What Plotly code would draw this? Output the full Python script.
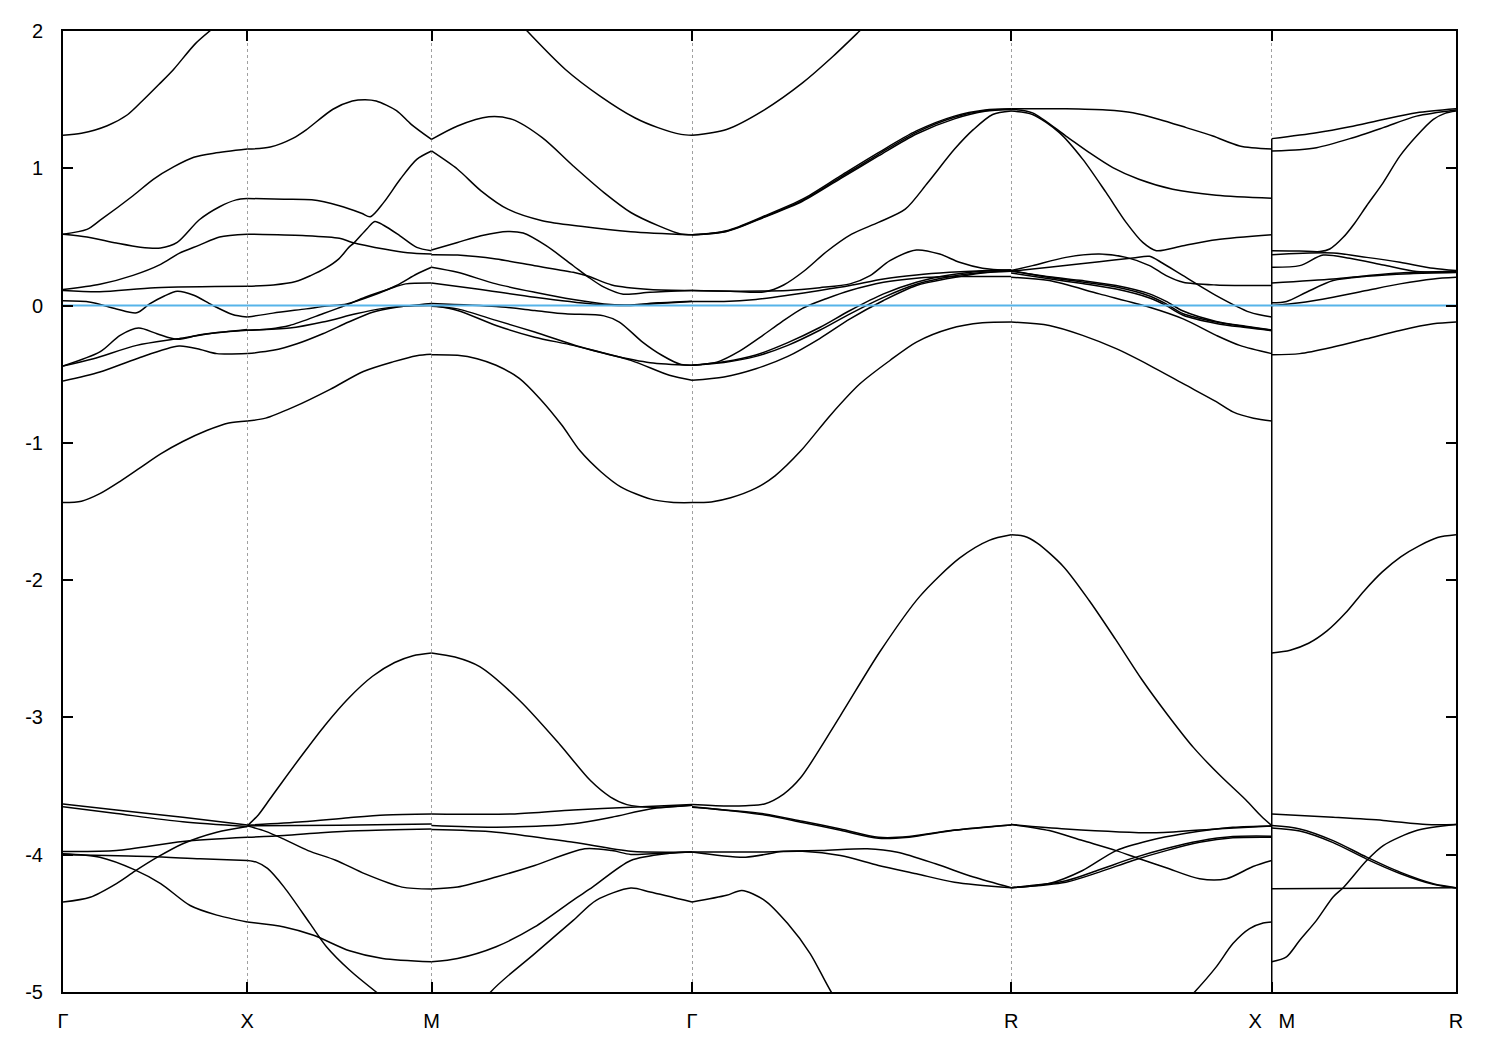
import plotly.graph_objects as go

# ---------------- axis / path data ----------------
k_ticks = [0.0, 0.5, 1.0, 1.7071, 2.5731, 3.2802, 3.7802]
k_labels = ["Γ", "X", "M", "Γ", "R", "X   M", "R"]
y_range = [-5, 2]
y_ticks = [-5, -4, -3, -2, -1, 0, 1, 2]
fermi_level = 0.0

# each curve: list of (fraction along segment, energy in eV)
bands_GX = [
    [(0, 1.24), (0.1, 1.255), (0.24, 1.31), (0.35, 1.39), (0.43, 1.49), (0.52, 1.61), (0.60, 1.72), (0.72, 1.91), (0.84, 2.05), (1, 2.25)],
    [(0, 0.52), (0.13, 0.555), (0.20, 0.62), (0.38, 0.80), (0.49, 0.92), (0.60, 1.01), (0.71, 1.08), (0.82, 1.11), (1, 1.14)],
    [(0, 0.52), (0.13, 0.50), (0.29, 0.455), (0.42, 0.425), (0.53, 0.42), (0.62, 0.46), (0.74, 0.625), (0.85, 0.72), (0.94, 0.77), (1, 0.78)],
    [(0, 0.117), (0.20, 0.155), (0.38, 0.22), (0.53, 0.30), (0.63, 0.38), (0.74, 0.44), (0.85, 0.50), (1, 0.52)],
    [(0, 0.11), (0.2, 0.10), (0.5, 0.13), (1, 0.14)],
    [(0, 0.035), (0.15, 0.025), (0.29, -0.025), (0.40, -0.053), (0.47, 0.012), (0.55, 0.07), (0.62, 0.105), (0.71, 0.075), (0.81, 0.003), (0.92, -0.065), (1, -0.084)],
    [(0, -0.44), (0.2, -0.338), (0.31, -0.217), (0.41, -0.164), (0.51, -0.205), (0.62, -0.246), (0.745, -0.213), (1, -0.175)],
    [(0, -0.44), (0.165, -0.387), (0.40, -0.29), (0.62, -0.242), (0.835, -0.198), (1, -0.18)],
    [(0, -0.55), (0.2, -0.484), (0.40, -0.387), (0.63, -0.295), (0.745, -0.32), (0.835, -0.35), (1, -0.35)],
    [(0, -1.435), (0.1, -1.425), (0.2, -1.37), (0.31, -1.28), (0.42, -1.18), (0.53, -1.08), (0.65, -0.99), (0.78, -0.91), (0.9, -0.855), (1, -0.84)],
    [(0, -3.63), (0.29, -3.674), (0.65, -3.728), (1, -3.783)],
    [(0, -3.65), (0.29, -3.70), (0.65, -3.76), (1, -3.795)],
    [(0, -3.977), (0.29, -3.97), (0.65, -3.904), (1, -3.873)],
    [(0, -3.993), (0.2, -4.018), (0.39, -4.11), (0.53, -4.21), (0.69, -4.37), (0.835, -4.44), (1, -4.49)],
    [(0, -4.0), (0.47, -4.013), (0.745, -4.03), (1, -4.042)],
    [(0, -4.345), (0.147, -4.31), (0.29, -4.21), (0.39, -4.12), (0.51, -4.02), (0.65, -3.92), (0.835, -3.836), (1, -3.795)],
]

bands_XM = [
    [(0, 1.14), (0.125, 1.155), (0.25, 1.22), (0.32, 1.28), (0.465, 1.43), (0.57, 1.49), (0.64, 1.50), (0.70, 1.49), (0.81, 1.42), (0.89, 1.32), (1, 1.21)],
    [(0, 0.78), (0.2, 0.775), (0.35, 0.77), (0.5, 0.727), (0.62, 0.673), (0.668, 0.647), (0.74, 0.75), (0.83, 0.92), (0.92, 1.065), (1, 1.126)],
    [(0, 0.52), (0.3, 0.51), (0.5, 0.49), (0.57, 0.46), (0.75, 0.41), (0.87, 0.385), (1, 0.375)],
    [(0, 0.14), (0.142, 0.15), (0.263, 0.175), (0.344, 0.218), (0.425, 0.272), (0.497, 0.34), (0.551, 0.424), (0.578, 0.455), (0.65, 0.56), (0.692, 0.613), (0.74, 0.585), (0.827, 0.51), (0.92, 0.424), (1, 0.40)],
    [(0, -0.084), (0.14, -0.055), (0.32, -0.024), (0.43, -0.004), (0.54, 0.012), (0.68, 0.073), (0.81, 0.146), (0.92, 0.23), (1, 0.279)],
    [(0, -0.18), (0.12, -0.17), (0.23, -0.145), (0.41, -0.06), (0.54, 0.005), (0.64, 0.061), (0.77, 0.121), (0.86, 0.158), (1, 0.165)],
    [(0, -0.18), (0.23, -0.164), (0.41, -0.12), (0.59, -0.06), (0.72, -0.024), (0.86, -0.004), (1, 0.0)],
    [(0, -0.35), (0.14, -0.326), (0.27, -0.278), (0.41, -0.205), (0.55, -0.12), (0.68, -0.048), (0.81, -0.012), (1, 0.015)],
    [(0, -0.84), (0.1, -0.82), (0.25, -0.74), (0.45, -0.61), (0.63, -0.48), (0.79, -0.41), (0.92, -0.365), (1, -0.355)],
    [(0, -3.79), (0.06, -3.71), (0.12, -3.60), (0.19, -3.47), (0.3, -3.27), (0.42, -3.06), (0.55, -2.86), (0.68, -2.70), (0.8, -2.60), (0.9, -2.55), (1, -2.53)],
    [(0, -3.785), (0.3, -3.76), (0.55, -3.73), (0.75, -3.71), (1, -3.703)],
    [(0, -3.79), (0.5, -3.785), (1, -3.776)],
    [(0, -3.873), (0.2, -3.86), (0.4, -3.84), (0.6, -3.825), (1, -3.812)],
    [(0, -3.79), (0.1, -3.83), (0.196, -3.885), (0.33, -3.97), (0.48, -4.04), (0.64, -4.14), (0.84, -4.236), (1, -4.25)],
    [(0, -4.042), (0.05, -4.054), (0.11, -4.10), (0.2, -4.236), (0.34, -4.50), (0.43, -4.67), (0.555, -4.84), (0.70, -5.0), (0.85, -5.15), (1, -5.25)],
    [(0, -4.49), (0.2, -4.526), (0.36, -4.587), (0.555, -4.70), (0.735, -4.756), (1, -4.78)],
]

bands_MG = [
    [(0, 2.6), (0.2, 2.35), (0.367, 2.0), (0.514, 1.72), (0.647, 1.526), (0.78, 1.368), (0.869, 1.296), (0.958, 1.247), (1, 1.24)],
    [(0, 1.21), (0.10, 1.308), (0.22, 1.375), (0.31, 1.356), (0.425, 1.223), (0.544, 1.017), (0.662, 0.823), (0.765, 0.678), (0.87, 0.582), (0.956, 0.521), (1, 0.515)],
    [(0, 1.126), (0.10, 0.993), (0.19, 0.836), (0.293, 0.702), (0.425, 0.618), (0.573, 0.577), (0.765, 0.538), (1, 0.515)],
    [(0, 0.405), (0.10, 0.46), (0.19, 0.509), (0.293, 0.54), (0.352, 0.528), (0.44, 0.436), (0.544, 0.29), (0.603, 0.206), (0.662, 0.134), (0.736, 0.083), (0.839, 0.097), (1, 0.11)],
    [(0, 0.371), (0.10, 0.368), (0.248, 0.339), (0.396, 0.29), (0.544, 0.242), (0.603, 0.213), (0.692, 0.15), (0.839, 0.117), (1, 0.11)],
    [(0, 0.279), (0.1, 0.242), (0.248, 0.158), (0.396, 0.097), (0.544, 0.044), (0.662, 0.012), (0.75, 0.005), (0.87, 0.02), (1, 0.032)],
    [(0, 0.165), (0.175, 0.121), (0.396, 0.061), (0.618, 0.012), (0.75, 0.0), (0.87, 0.015), (1, 0.03)],
    [(0, 0.015), (0.248, -0.007), (0.396, -0.036), (0.514, -0.06), (0.662, -0.075), (0.721, -0.12), (0.81, -0.266), (0.884, -0.362), (0.958, -0.43), (1, -0.435)],
    [(0, 0.0), (0.10, -0.036), (0.248, -0.145), (0.396, -0.23), (0.544, -0.29), (0.692, -0.362), (0.839, -0.416), (1, -0.435)],
    [(0, -0.005), (0.10, -0.024), (0.248, -0.108), (0.396, -0.193), (0.573, -0.302), (0.765, -0.399), (0.913, -0.508), (1, -0.544)],
    [(0, -0.358), (0.10, -0.362), (0.175, -0.387), (0.248, -0.435), (0.337, -0.53), (0.417, -0.68), (0.5, -0.87), (0.571, -1.06), (0.65, -1.21), (0.726, -1.32), (0.842, -1.41), (0.92, -1.433), (1, -1.435)],
    [(0, -2.53), (0.09, -2.56), (0.185, -2.63), (0.34, -2.88), (0.494, -3.2), (0.61, -3.46), (0.687, -3.58), (0.75, -3.635), (0.85, -3.655), (1, -3.64)],
    [(0, -3.703), (0.32, -3.703), (0.544, -3.674), (0.765, -3.655), (1, -3.635)],
    [(0, -3.788), (0.248, -3.80), (0.544, -3.775), (0.692, -3.727), (0.839, -3.667), (1, -3.64)],
    [(0, -3.817), (0.248, -3.836), (0.544, -3.91), (0.765, -3.975), (1, -3.98)],
    [(0, -4.25), (0.10, -4.236), (0.248, -4.163), (0.396, -4.078), (0.588, -3.957), (0.692, -3.97), (0.765, -3.998), (0.88, -3.99), (1, -3.98)],
    [(0, -4.78), (0.10, -4.756), (0.248, -4.67), (0.396, -4.526), (0.544, -4.33), (0.618, -4.236), (0.765, -4.042), (0.913, -3.99), (1, -3.98)],
    [(0, -5.6), (0.1, -5.35), (0.227, -5.0), (0.396, -4.72), (0.544, -4.478), (0.632, -4.332), (0.765, -4.243), (0.839, -4.272), (1, -4.345)],
]

bands_GR = [
    [(0, 1.24), (0.108, 1.283), (0.228, 1.428), (0.346, 1.622), (0.442, 1.816), (0.525, 2.0), (0.7, 2.4), (1, 2.8)],
    [(0, 0.515), (0.108, 0.545), (0.228, 0.654), (0.346, 0.775), (0.465, 0.945), (0.584, 1.114), (0.703, 1.272), (0.822, 1.38), (0.918, 1.424), (1, 1.433)],
    [(0, 0.515), (0.108, 0.542), (0.228, 0.648), (0.346, 0.766), (0.465, 0.934), (0.584, 1.102), (0.703, 1.262), (0.822, 1.372), (0.918, 1.42), (1, 1.43)],
    [(0, 0.515), (0.108, 0.54), (0.228, 0.645), (0.346, 0.76), (0.465, 0.925), (0.584, 1.09), (0.703, 1.25), (0.822, 1.36), (0.918, 1.415), (1, 1.428)],
    [(0, 0.11), (0.12, 0.105), (0.228, 0.10), (0.287, 0.15), (0.35, 0.25), (0.42, 0.39), (0.5, 0.52), (0.584, 0.606), (0.668, 0.702), (0.739, 0.896), (0.822, 1.138), (0.882, 1.283), (0.942, 1.392), (1, 1.417)],
    [(0, 0.11), (0.15, 0.105), (0.3, 0.11), (0.4, 0.13), (0.495, 0.158), (0.558, 0.218), (0.62, 0.327), (0.703, 0.405), (0.776, 0.375), (0.838, 0.315), (0.91, 0.272), (1, 0.255)],
    [(0, 0.03), (0.1, 0.03), (0.2, 0.045), (0.3, 0.075), (0.4, 0.11), (0.495, 0.146), (0.6, 0.194), (0.703, 0.223), (0.807, 0.242), (0.91, 0.254), (1, 0.259)],
    [(0, -0.435), (0.08, -0.41), (0.15, -0.33), (0.22, -0.22), (0.28, -0.12), (0.346, -0.02), (0.42, 0.05), (0.495, 0.11), (0.6, 0.17), (0.703, 0.199), (0.807, 0.211), (1, 0.211)],
    [(0, -0.435), (0.1, -0.41), (0.2, -0.36), (0.3, -0.27), (0.4, -0.16), (0.495, -0.036), (0.6, 0.085), (0.703, 0.17), (0.807, 0.223), (0.91, 0.25), (1, 0.259)],
    [(0, -0.435), (0.1, -0.415), (0.2, -0.37), (0.3, -0.29), (0.4, -0.18), (0.495, -0.06), (0.6, 0.06), (0.703, 0.155), (0.807, 0.21), (0.91, 0.24), (1, 0.255)],
    [(0, -0.544), (0.1, -0.52), (0.2, -0.46), (0.3, -0.37), (0.4, -0.24), (0.495, -0.097), (0.6, 0.037), (0.703, 0.146), (0.807, 0.199), (0.91, 0.238), (1, 0.25)],
    [(0, -1.435), (0.06, -1.43), (0.121, -1.40), (0.2, -1.33), (0.26, -1.24), (0.34, -1.06), (0.433, -0.80), (0.526, -0.57), (0.62, -0.40), (0.703, -0.266), (0.807, -0.169), (0.91, -0.126), (1, -0.12)],
    [(0, -3.635), (0.1, -3.645), (0.168, -3.643), (0.227, -3.63), (0.287, -3.558), (0.34, -3.44), (0.464, -2.99), (0.589, -2.52), (0.713, -2.12), (0.838, -1.84), (0.931, -1.71), (1, -1.67)],
    [(0, -3.655), (0.227, -3.703), (0.346, -3.757), (0.465, -3.812), (0.584, -3.873), (0.68, -3.868), (0.822, -3.82), (1, -3.783)],
    [(0, -3.65), (0.227, -3.71), (0.346, -3.765), (0.465, -3.822), (0.584, -3.88), (0.68, -3.872), (0.822, -3.822), (1, -3.783)],
    [(0, -3.98), (0.168, -4.018), (0.287, -3.975), (0.406, -3.97), (0.549, -3.957), (0.644, -3.982), (0.763, -4.066), (0.882, -4.163), (1, -4.24)],
    [(0, -3.98), (0.227, -3.98), (0.346, -3.975), (0.465, -4.006), (0.584, -4.078), (0.703, -4.139), (0.822, -4.2), (1, -4.24)],
    [(0, -4.345), (0.108, -4.296), (0.156, -4.26), (0.227, -4.332), (0.299, -4.50), (0.37, -4.72), (0.436, -5.0), (0.55, -5.4), (0.7, -5.8)],
]

bands_RX = [
    [(0, 1.433), (0.21, 1.433), (0.364, 1.424), (0.467, 1.404), (0.569, 1.356), (0.672, 1.296), (0.774, 1.235), (0.877, 1.163), (1, 1.14)],
    [(0, 1.43), (0.082, 1.404), (0.21, 1.235), (0.3, 1.114), (0.39, 1.005), (0.49, 0.92), (0.62, 0.847), (0.787, 0.804), (1, 0.782)],
    [(0, 1.417), (0.082, 1.392), (0.185, 1.26), (0.275, 1.065), (0.364, 0.824), (0.441, 0.606), (0.505, 0.46), (0.557, 0.40), (0.66, 0.436), (0.787, 0.48), (1, 0.516)],
    [(0, 0.255), (0.082, 0.291), (0.21, 0.351), (0.338, 0.375), (0.441, 0.351), (0.531, 0.291), (0.595, 0.218), (0.66, 0.17), (0.787, 0.15), (1, 0.146)],
    [(0, 0.25), (0.146, 0.279), (0.338, 0.32), (0.467, 0.346), (0.531, 0.359), (0.58, 0.31), (0.66, 0.218), (0.787, 0.073), (0.915, -0.048), (1, -0.084)],
    [(0, 0.25), (0.146, 0.21), (0.274, 0.182), (0.403, 0.146), (0.531, 0.085), (0.595, 0.03), (0.66, -0.04), (0.787, -0.115), (0.9, -0.15), (1, -0.178)],
    [(0, 0.255), (0.146, 0.205), (0.274, 0.172), (0.403, 0.135), (0.531, 0.07), (0.595, 0.012), (0.66, -0.06), (0.787, -0.12), (0.9, -0.155), (1, -0.18)],
    [(0, 0.238), (0.146, 0.195), (0.274, 0.16), (0.403, 0.12), (0.531, 0.055), (0.595, 0.0), (0.66, -0.07), (0.787, -0.13), (0.9, -0.16), (1, -0.183)],
    [(0, 0.206), (0.146, 0.182), (0.338, 0.085), (0.531, -0.012), (0.66, -0.097), (0.787, -0.217), (0.877, -0.29), (1, -0.35)],
    [(0, -0.12), (0.146, -0.145), (0.274, -0.217), (0.403, -0.314), (0.531, -0.435), (0.66, -0.569), (0.787, -0.70), (0.851, -0.774), (0.93, -0.82), (1, -0.84)],
    [(0, -1.67), (0.05, -1.68), (0.1, -1.73), (0.2, -1.90), (0.3, -2.15), (0.4, -2.43), (0.5, -2.72), (0.6, -2.98), (0.7, -3.22), (0.8, -3.42), (0.9, -3.60), (0.96, -3.72), (1, -3.788)],
    [(0, -3.78), (0.21, -3.812), (0.557, -3.84), (0.8, -3.81), (1, -3.79)],
    [(0, -3.78), (0.146, -3.824), (0.274, -3.897), (0.403, -3.97), (0.492, -4.03), (0.595, -4.095), (0.723, -4.175), (0.826, -4.175), (0.928, -4.086), (1, -4.042)],
    [(0, -4.24), (0.21, -4.2), (0.338, -4.127), (0.467, -4.042), (0.595, -3.97), (0.723, -3.91), (0.851, -3.877), (1, -3.873)],
    [(0, -4.24), (0.21, -4.19), (0.338, -4.11), (0.467, -4.025), (0.595, -3.955), (0.723, -3.9), (0.851, -3.868), (1, -3.865)],
    [(0, -4.24), (0.146, -4.21), (0.274, -4.115), (0.403, -3.97), (0.531, -3.897), (0.66, -3.848), (0.851, -3.80), (1, -3.79)],
    [(0.4, -5.6), (0.55, -5.3), (0.704, -5.0), (0.787, -4.817), (0.851, -4.647), (0.915, -4.538), (0.967, -4.497), (1, -4.49)],
]

bands_MR = [
    [(0, 1.216), (0.243, 1.259), (0.424, 1.303), (0.605, 1.356), (0.786, 1.404), (1, 1.433)],
    [(0, 1.126), (0.15, 1.135), (0.243, 1.15), (0.424, 1.216), (0.605, 1.296), (0.786, 1.38), (1, 1.425)],
    [(0, 0.40), (0.15, 0.398), (0.261, 0.393), (0.315, 0.412), (0.388, 0.497), (0.45, 0.6), (0.515, 0.727), (0.605, 0.896), (0.696, 1.09), (0.786, 1.235), (0.877, 1.356), (0.94, 1.40), (1, 1.417)],
    [(0, 0.371), (0.333, 0.383), (0.515, 0.351), (0.696, 0.315), (0.877, 0.272), (1, 0.255)],
    [(0, 0.279), (0.152, 0.291), (0.279, 0.368), (0.424, 0.344), (0.605, 0.296), (0.786, 0.248), (1, 0.245)],
    [(0, 0.165), (0.333, 0.194), (0.515, 0.218), (0.696, 0.238), (1, 0.25)],
    [(0, 0.02), (0.08, 0.03), (0.188, 0.097), (0.333, 0.182), (0.515, 0.213), (0.75, 0.232), (1, 0.24)],
    [(0, 0.0), (0.152, 0.02), (0.333, 0.061), (0.515, 0.11), (0.696, 0.158), (0.877, 0.194), (1, 0.206)],
    [(0, -0.358), (0.152, -0.35), (0.333, -0.302), (0.515, -0.242), (0.696, -0.181), (0.877, -0.133), (1, -0.12)],
    [(0, -2.53), (0.1, -2.51), (0.2, -2.46), (0.3, -2.37), (0.4, -2.24), (0.5, -2.08), (0.6, -1.94), (0.7, -1.83), (0.8, -1.75), (0.9, -1.69), (1, -1.67)],
    [(0, -3.703), (0.333, -3.727), (0.605, -3.75), (0.84, -3.78), (1, -3.78)],
    [(0, -3.788), (0.152, -3.812), (0.333, -3.897), (0.515, -4.018), (0.696, -4.127), (0.877, -4.211), (1, -4.24)],
    [(0, -3.805), (0.152, -3.828), (0.333, -3.912), (0.515, -4.032), (0.696, -4.137), (0.877, -4.216), (1, -4.242)],
    [(0, -4.248), (0.5, -4.245), (1, -4.24)],
    [(0, -4.78), (0.08, -4.744), (0.152, -4.623), (0.243, -4.478), (0.333, -4.308), (0.388, -4.24), (0.515, -4.042), (0.605, -3.933), (0.786, -3.824), (1, -3.78)],
]

segments = [
    (0, 1, bands_GX),
    (1, 2, bands_XM),
    (2, 3, bands_MG),
    (3, 4, bands_GR),
    (4, 5, bands_RX),
    (5, 6, bands_MR),
]

# ---------------- figure ----------------
fig = go.Figure()
band_line = dict(color="black", width=1.5, shape="spline", smoothing=0.8)

for i0, i1, curves in segments:
    k0, k1 = k_ticks[i0], k_ticks[i1]
    for curve in curves:
        xs = [k0 + f * (k1 - k0) for f, _ in curve]
        ys = [e for _, e in curve]
        fig.add_trace(go.Scatter(x=xs, y=ys, mode="lines", line=band_line,
                                 hoverinfo="skip", showlegend=False))

# discontinuity at X|M: bands jump from X values to M values
k_break = k_ticks[5]
break_top = max(c[0][1] for c in bands_MR)
fig.add_trace(go.Scatter(x=[k_break, k_break], y=[y_range[0] - 1, break_top], mode="lines",
                         line=dict(color="black", width=1.5), hoverinfo="skip", showlegend=False))

# Fermi level
fig.add_trace(go.Scatter(x=[k_ticks[0], k_ticks[-1]], y=[fermi_level, fermi_level], mode="lines",
                         line=dict(color="#56B4E9", width=2), hoverinfo="skip", showlegend=False))

font = dict(family="Liberation Sans, Arial, sans-serif", size=20, color="black")

fig.update_layout(
    width=1492, height=1042,
    margin=dict(l=55, r=44, t=20, b=58),
    paper_bgcolor="white", plot_bgcolor="white",
    font=font,
    showlegend=False,
)
fig.update_xaxes(
    range=[k_ticks[0], k_ticks[-1]],
    tickmode="array", tickvals=k_ticks, ticktext=k_labels,
    ticks="inside", ticklen=10, tickwidth=1.5, tickcolor="black",
    showline=True, linecolor="black", linewidth=2, mirror="ticks",
    showgrid=True, gridcolor="#a0a0a0", gridwidth=1, griddash="3px,3px",
    zeroline=False, ticklabelstandoff=10, tickfont=font,
)
fig.update_yaxes(
    range=y_range,
    tickmode="array", tickvals=y_ticks, ticktext=[str(v) for v in y_ticks],
    ticks="inside", ticklen=10, tickwidth=1.5, tickcolor="black",
    showline=True, linecolor="black", linewidth=2, mirror="ticks",
    showgrid=False, zeroline=False, ticklabelstandoff=14, tickfont=font,
)

fig.write_html("out.html")
